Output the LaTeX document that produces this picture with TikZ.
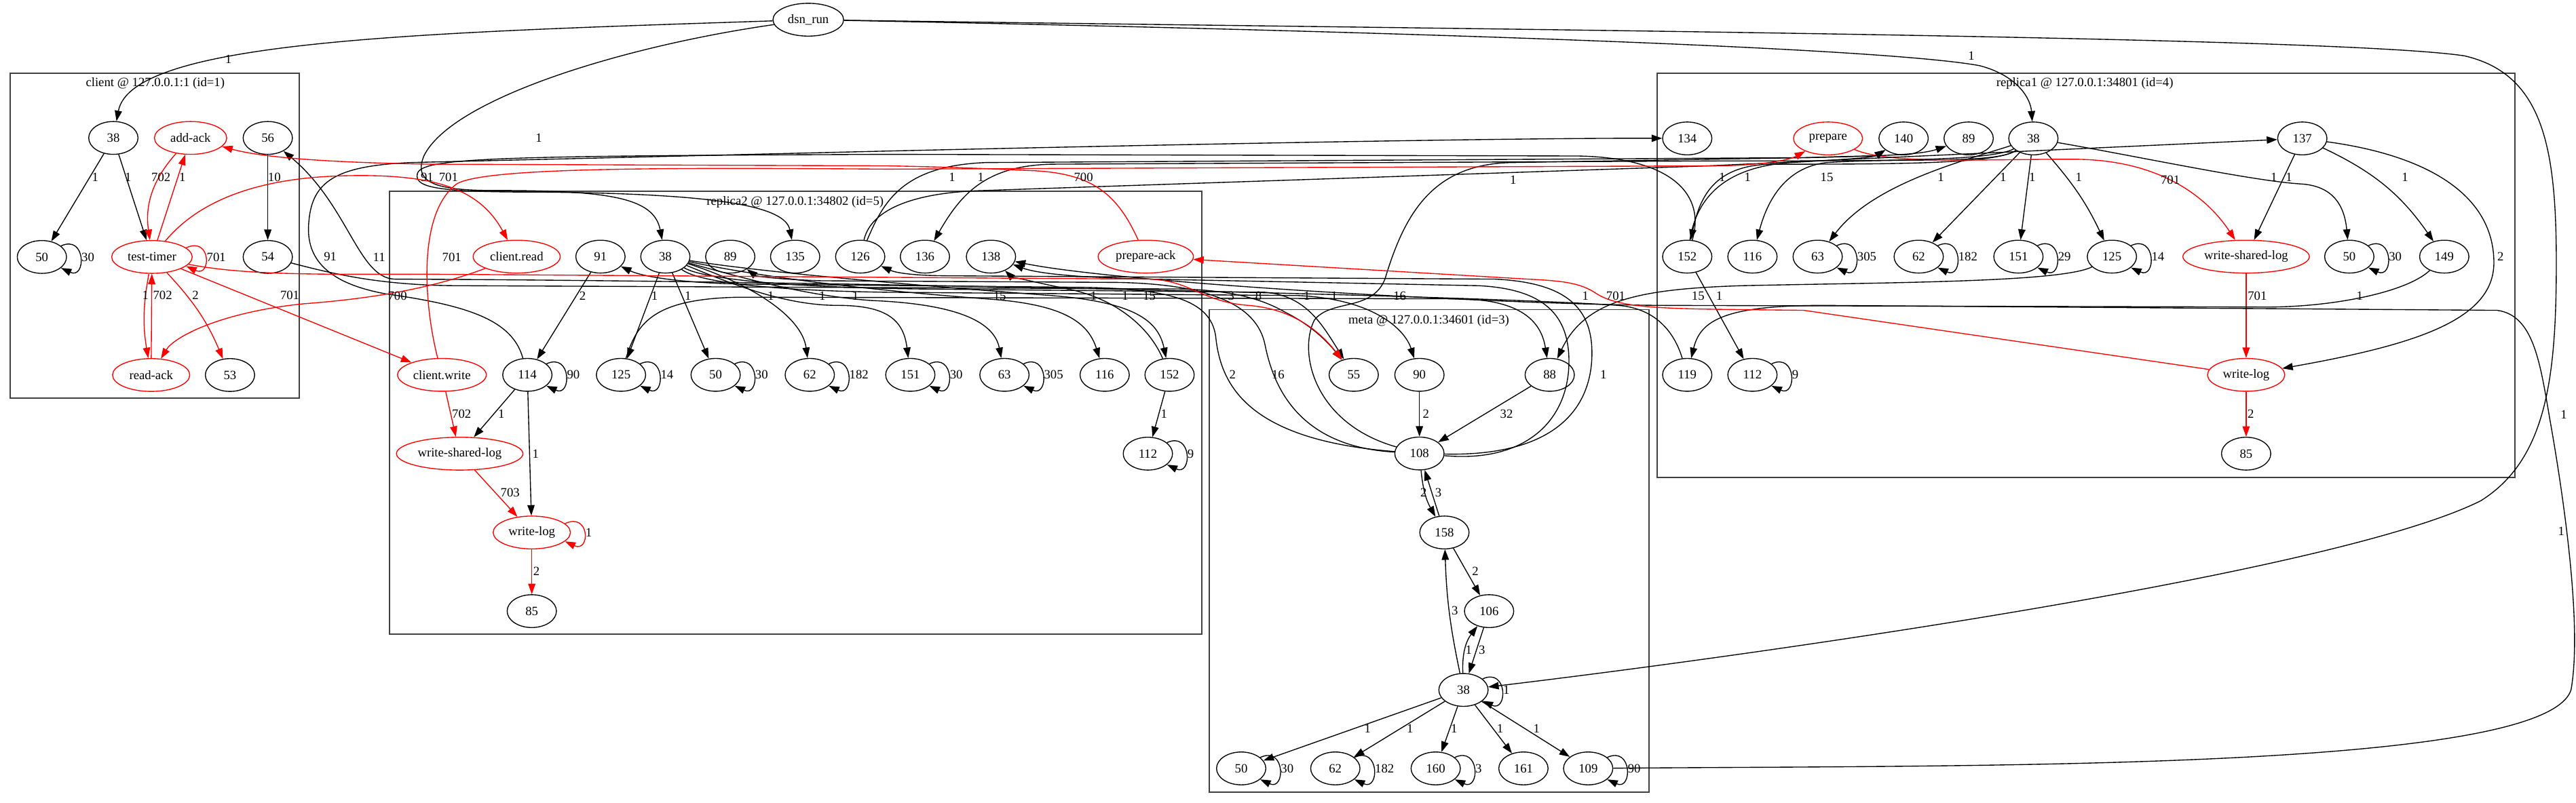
\documentclass[tikz,border=0pt]{standalone}
\usepackage{fontspec}
\setmainfont{Liberation Serif}
\usetikzlibrary{arrows.meta,shapes.geometric}

\begin{document}
\begin{tikzpicture}[x=0.05cm,y=-0.05cm,
  tn/.style={ellipse,draw=black,line width=0.8pt,minimum width=1.5cm,minimum height=1cm,inner sep=0pt,font=\fontsize{11}{13}\selectfont},
  rn/.style={tn,draw=red},
  lbl/.style={inner sep=1pt,font=\fontsize{11}{13}\selectfont,text=black},
  cl/.style={draw=black!75,line width=1pt},
  e/.style={draw=black,line width=0.8pt,-{Triangle[length=0.32cm,width=0.22cm]}},
  er/.style={e,draw=red},
  sloop/.style={to path={(\tikztostart.30) .. controls +(25:0.85cm) and +(-25:0.85cm) .. (\tikztostart.-30) \tikztonodes}},
  wloop/.style={to path={(\tikztostart.15) .. controls +(25:0.85cm) and +(-25:0.85cm) .. (\tikztostart.-15) \tikztonodes}}]
\useasboundingbox (0,0) rectangle (1568,489);

\node[tn,minimum width=2.15cm] (dsnrun) at (492,12) {dsn\_run};

% client
\draw[cl] (6.3,44.6) rectangle (182.3,242.6);
\node[lbl] (clientlbl) at (94.5,50.6) {client @ 127.0.0.1:1 (id=1)};
\node[tn] (c38) at (69,84) {38};
\node[rn,minimum width=2.2cm] (caddack) at (116,84) {add-ack};
\node[tn] (c56) at (163,84) {56};
\node[tn] (c50) at (25.5,156.5) {50};
\node[rn,minimum width=2.45cm] (ctimer) at (92.5,156.5) {test-timer};
\node[tn] (c54) at (163,156.5) {54};
\node[rn,minimum width=2.35cm] (creadack) at (92,228.4) {read-ack};
\node[tn] (c53) at (140,228.4) {53};

% replica2
\draw[cl] (237.1,116.6) rectangle (731.6,386.2);
\node[lbl] (rtwolbl) at (484,123.2) {replica2 @ 127.0.0.1:34802 (id=5)};
\node[rn,minimum width=2.65cm] (bread) at (314.5,156.3) {client.read};
\node[tn] (b91) at (365.5,156.3) {91};
\node[tn] (b38) at (405,156.3) {38};
\node[tn] (b89) at (444.5,156.3) {89};
\node[tn] (b135) at (484,156.3) {135};
\node[tn] (b126) at (523.6,156.3) {126};
\node[tn] (b136) at (563,156.3) {136};
\node[tn] (b138) at (603.2,156.3) {138};
\node[rn,minimum width=2.9cm] (bprepack) at (697.4,156.3) {prepare-ack};
\node[rn,minimum width=2.7cm] (bwrite) at (269,228.3) {client.write};
\node[tn] (b114) at (321,228.3) {114};
\node[tn] (b125) at (378,228.3) {125};
\node[tn] (b50) at (435.6,228.3) {50};
\node[tn] (b62) at (492.9,228.3) {62};
\node[tn] (b151) at (554.1,228.3) {151};
\node[tn] (b63) at (611.4,228.3) {63};
\node[tn] (b116) at (672.4,228.3) {116};
\node[tn] (b152) at (711.9,228.3) {152};
\node[rn,minimum width=3.85cm] (bwsl) at (279.8,276.3) {write-shared-log};
\node[tn] (b112) at (698.7,276.3) {112};
\node[rn,minimum width=2.35cm] (bwlog) at (323.7,324.3) {write-log};
\node[tn] (b85) at (323.7,372.2) {85};

% meta
\draw[cl] (736.2,188.6) rectangle (1003.8,482.4);
\node[lbl] (metalbl) at (869.7,195.2) {meta @ 127.0.0.1:34601 (id=3)};
\node[tn] (m55) at (824,228.3) {55};
\node[tn] (m90) at (864,228.3) {90};
\node[tn] (m88) at (943.3,228.3) {88};
\node[tn] (m108) at (864,276.2) {108};
\node[tn] (m158) at (879.2,324.3) {158};
\node[tn] (m106) at (906.4,372.2) {106};
\node[tn] (m38) at (890.8,420.2) {38};
\node[tn] (m50) at (755.5,468) {50};
\node[tn] (m62) at (812.8,468) {62};
\node[tn] (m160) at (873.9,468) {160};
\node[tn] (m161) at (927.3,468) {161};
\node[tn] (m109) at (966.7,468) {109};

% replica1
\draw[cl] (1008.6,44.5) rectangle (1530.8,290.7);
\node[lbl] (ronelbl) at (1269,50.7) {replica1 @ 127.0.0.1:34801 (id=4)};
\node[tn] (a134) at (1027,84.3) {134};
\node[rn,minimum width=2.1cm] (aprep) at (1112.7,84.3) {prepare};
\node[tn] (a140) at (1158.7,84.3) {140};
\node[tn] (a89) at (1198.3,84.3) {89};
\node[tn] (a38) at (1237.7,84.3) {38};
\node[tn] (a137) at (1401.4,84.3) {137};
\node[tn] (a152) at (1027,156.3) {152};
\node[tn] (a116) at (1066.7,156.3) {116};
\node[tn] (a63) at (1106.4,156.3) {63};
\node[tn] (a62) at (1167.9,156.3) {62};
\node[tn] (a151) at (1228.6,156.3) {151};
\node[tn] (a125) at (1285.5,156.3) {125};
\node[rn,minimum width=3.85cm] (awsl) at (1367.2,156.3) {write-shared-log};
\node[tn] (a50) at (1430,156.3) {50};
\node[tn] (a149) at (1487.8,156.3) {149};
\node[tn] (a119) at (1027,228.3) {119};
\node[tn] (a112) at (1066.7,228.3) {112};
\node[rn,minimum width=2.35cm] (awlog) at (1367.2,228.3) {write-log};
\node[tn] (a85) at (1367.2,276.3) {85};

% client edges
\draw[e] (dsnrun) .. controls (250,20) and (80,25) .. (c38) node[lbl] at (139,36) {1};
\draw[e] (c38) -- (c50) node[lbl] at (58,108) {1};
\draw[e] (c38) -- (ctimer) node[lbl] at (78,108) {1};
\draw[er] (ctimer) -- (caddack) node[lbl] at (111,108) {1};
\draw[er] (caddack) to[bend right=25] (ctimer) node[lbl] at (98,108) {702};
\draw[er] (ctimer) to[bend right=10] (creadack) node[lbl] at (88.5,180) {1};
\draw[er] (creadack) -- (ctimer) node[lbl] at (99,180) {702};
\draw[er] (ctimer) to[bend left=10] (c53) node[lbl] at (119,180) {2};
\draw[e] (c56) -- (c54) node[lbl] at (167,108) {10};
\path (c50) edge[e,sloop] node[lbl,right] {30} (c50);
\path (ctimer) edge[er,wloop] node[lbl,right] {701} (ctimer);

% replica2 edges
\draw[e] (b91) -- (b114) node[lbl] at (354.6,180.4) {2};
\draw[e] (b38) -- (b125) node[lbl] at (398.4,180.4) {1};
\draw[e] (b38) -- (b50) node[lbl] at (418.8,180.4) {1};
\draw[e] (b38) .. controls (455,172) and (488,192) .. (b62) node[lbl] at (469.2,180.4) {1};
\draw[e] (b38) .. controls (450,175) and (480,186) .. (510,186) .. controls (540,186) and (550,195) .. (b151) node[lbl] at (500.5,180.4) {1};
\draw[e] (b38) .. controls (455,170) and (490,180) .. (530,183) .. controls (580,185) and (605,195) .. (b63) node[lbl] at (520.7,180.4) {1};
\draw[e] (b38) .. controls (460,168) and (520,176) .. (600,182) .. controls (645,185) and (662,195) .. (b116) node[lbl] at (699.6,180.4) {15};
\draw[e] (b38) .. controls (465,166) and (560,174) .. (640,180) .. controls (690,184) and (705,195) .. (b152) node[lbl] at (665.7,180.4) {1};
\draw[e] (b152) .. controls (700,200) and (680,182) .. (650,176) .. controls (630,172) and (615,168) .. (b138) node[lbl] at (684.9,180.4) {1};
\draw[e] (b114) -- (bwsl) node[lbl] at (305.2,252) {1};
\draw[er] (bwrite) -- (bwsl) node[lbl] at (281,252) {702};
\draw[e] (b114) -- (bwlog) node[lbl] at (326,276.3) {1};
\draw[er] (bwsl) -- (bwlog) node[lbl] at (310.5,300) {703};
\draw[er] (bwlog) -- (b85) node[lbl] at (326.5,347.8) {2};
\draw[e] (b152) -- (b112) node[lbl] at (708.5,252) {1};
\path (b114) edge[e,sloop] node[lbl,right] {90} (b114);
\path (b125) edge[e,sloop] node[lbl,right] {14} (b125);
\path (b50) edge[e,sloop] node[lbl,right] {30} (b50);
\path (b62) edge[e,sloop] node[lbl,right] {182} (b62);
\path (b151) edge[e,sloop] node[lbl,right] {30} (b151);
\path (b63) edge[e,sloop] node[lbl,right] {305} (b63);
\path (b112) edge[e,sloop] node[lbl,right] {9} (b112);
\path (bwlog) edge[er,wloop] node[lbl,right] {1} (bwlog);

% meta edges
\draw[e] (m90) -- (m108) node[lbl] at (868,252) {2};
\draw[e] (m88) -- (m108) node[lbl] at (917,252) {32};
\draw[e] (m108) to[bend right=12] (m158) node[lbl] at (866.5,300) {2};
\draw[e] (m158) -- (m108) node[lbl] at (875.5,300) {3};
\draw[e] (m158) -- (m106) node[lbl] at (898,348) {2};
\draw[e] (m38) to[bend left=5] (m158) node[lbl] at (885.5,372) {3};
\draw[e] (m38) to[bend left=20] (m106) node[lbl] at (894,395.8) {1};
\draw[e] (m106) -- (m38) node[lbl] at (902,395.8) {3};
\draw[e] (m38) -- (m50) node[lbl] at (832.4,443.6) {1};
\draw[e] (m38) -- (m62) node[lbl] at (858.3,443.6) {1};
\draw[e] (m38) -- (m160) node[lbl] at (885.1,443.6) {1};
\draw[e] (m38) -- (m161) node[lbl] at (913.1,443.6) {1};
\draw[e] (m38) -- (m109) node[lbl] at (935.3,443.6) {1};
\path (m38) edge[e,sloop] node[lbl,right] {1} (m38);
\path (m50) edge[e,sloop] node[lbl,right] {30} (m50);
\path (m62) edge[e,sloop] node[lbl,right] {182} (m62);
\path (m160) edge[e,sloop] node[lbl,right] {3} (m160);
\path (m109) edge[e,sloop] node[lbl,right] {90} (m109);

% replica1 edges
\draw[e] (a38) .. controls (1195,98) and (1140,112) .. (a63) node[lbl] at (1181.4,108.1) {1};
\draw[e] (a38) -- (a62) node[lbl] at (1219.3,108.1) {1};
\draw[e] (a38) -- (a151) node[lbl] at (1237,108.1) {1};
\draw[e] (a38) to[bend left=8] (a125) node[lbl] at (1265.3,108.1) {1};
\draw[e] (a38) .. controls (1300,95) and (1370,110) .. (1400,112) .. controls (1420,113) and (1427,125) .. (a50) node[lbl] at (1384.1,108.1) {1};
\draw[e] (a38) .. controls (1215,100) and (1160,96) .. (1112,99) .. controls (1085,102) and (1075,125) .. (a116) node[lbl] at (1112,108.1) {15};
\draw[e] (a38) .. controls (1215,100) and (1150,100) .. (1080,100) .. controls (1045,100) and (1035,118) .. (a152) node[lbl] at (1048.3,108.1) {1};
\draw[e] (a152) .. controls (1032,125) and (1045,102) .. (1090,99) .. controls (1125,97) and (1140,96) .. (a140) node[lbl] at (1063.8,108.1) {1};
\draw[e] (a152) -- (a112) node[lbl] at (1046.5,180.4) {1};
\draw[e] (a137) -- (awsl) node[lbl] at (1393.3,108.1) {1};
\draw[e] (a137) to[bend left=15] (a149) node[lbl] at (1463.9,108.1) {1};
\draw[e] (a137) .. controls (1480,95) and (1518,120) .. (1518,160) .. controls (1518,195) and (1470,210) .. (awlog) node[lbl] at (1522,156.3) {2};
\draw[er] (aprep) .. controls (1150,100) and (1200,97) .. (1262,97) .. controls (1312,97) and (1342,118) .. (awsl) node[lbl] at (1321,109.5) {701};
\draw[er] (awsl) -- (awlog) node[lbl] at (1374,180.4) {701};
\draw[er] (awlog) -- (a85) node[lbl] at (1370,252) {2};
\path (a63) edge[e,sloop] node[lbl,right] {305} (a63);
\path (a62) edge[e,sloop] node[lbl,right] {182} (a62);
\path (a151) edge[e,sloop] node[lbl,right] {29} (a151);
\path (a125) edge[e,sloop] node[lbl,right] {14} (a125);
\path (a50) edge[e,sloop] node[lbl,right] {30} (a50);
\path (a112) edge[e,sloop] node[lbl,right] {9} (a112);

% dsn_run to the other nodes
\draw[e] (dsnrun) .. controls (380,28) and (275,60) .. (258,95) .. controls (252,110) and (262,116) .. (300,116) .. controls (370,116) and (398,120) .. (b38) node[lbl] at (328,84) {1};
\draw[e] (dsnrun) .. controls (800,18) and (1140,28) .. (1205,40) .. controls (1228,46) and (1236,60) .. (a38) node[lbl] at (1200,34) {1};
\draw[e] (dsnrun) .. controls (900,18) and (1420,22) .. (1500,34) .. controls (1548,45) and (1556,90) .. (1556,160) .. controls (1556,230) and (1550,280) .. (1510,305) .. controls (1420,350) and (1060,400) .. (m38) node[lbl] at (1560.6,252.7) {1};

% across the clusters
\draw[e] (m109) .. controls (1200,466) and (1550,470) .. (1565,420) .. controls (1572,380) and (1560,300) .. (1552,255) .. controls (1546,220) and (1542,192) .. (1520,189) -- (1110,186) .. controls (1050,186) and (1035,195) .. (a119) node[lbl] at (1559,323.5) {1};
\draw[e] (a149) .. controls (1465,178) and (1420,187) .. (1380,187) -- (1010,186) .. controls (900,185) and (680,172) .. (b138) node[lbl] at (1436.3,180.4) {1};
\draw[e] (a119) .. controls (1020,205) and (1010,188) .. (985,186) .. controls (900,180) and (500,171) .. (240,170) .. controls (218,169) and (212,125) .. (c56) node[lbl] at (230.8,156.5) {11};
\draw[e] (a125) .. controls (1255,172) and (1150,172) .. (1060,174) .. controls (1000,176) and (965,182) .. (m88) node[lbl] at (1033.6,180.4) {15};
\draw[e] (b125) .. controls (388,195) and (400,182) .. (450,181) -- (890,182) .. controls (925,183) and (938,195) .. (m88) node[lbl] at (608.5,180.4) {15};
\draw[e] (m108) .. controls (760,268) and (743,235) .. (740,205) .. controls (737,182) and (710,176) .. (660,175) -- (450,173) .. controls (410,172) and (390,168) .. (b91) node[lbl] at (750.2,228.3) {2};
\draw[e] (m108) .. controls (790,272) and (775,235) .. (770,210) .. controls (765,185) and (735,173) .. (680,172) -- (500,171) .. controls (470,170) and (460,168) .. (b89) node[lbl] at (778,228.3) {16};
\draw[e] (m108) .. controls (945,278) and (969,250) .. (969,215) .. controls (969,185) and (950,172) .. (910,170) -- (580,168) .. controls (555,168) and (545,166) .. (b126) node[lbl] at (976,228.3) {1};
\draw[e] (m108) .. controls (930,282) and (955,255) .. (955,220) .. controls (955,192) and (940,176) .. (900,174) -- (700,170) .. controls (650,169) and (630,166) .. (b138) node[lbl] at (965,180.4) {1};
\draw[e] (m108) .. controls (800,258) and (790,215) .. (800,195) .. controls (810,182) and (835,190) .. (843,170) .. controls (855,130) and (872,100) .. (920,99) -- (1100,96) .. controls (1150,95) and (1170,94) .. (a89) node[lbl] at (852,180.4) {16};
\draw[e] (b114) .. controls (312,195) and (285,186) .. (235,179) .. controls (196,172) and (186,155) .. (188,135) .. controls (190,110) and (205,101) .. (250,99) -- (540,92) .. controls (800,86) and (950,84) .. (a134) node[lbl] at (201,156.5) {91};
\draw[e] (a152) .. controls (1038,120) and (1020,96) .. (960,95) -- (540,94) .. controls (300,95) and (256,96) .. (254,106) .. controls (252,115) and (270,117) .. (330,117) .. controls (440,118) and (478,126) .. (b135) node[lbl] at (260,108) {91};
\draw[e] (b126) .. controls (538,122) and (550,101) .. (600,99) -- (1100,96) .. controls (1130,95) and (1142,95) .. (a140) node[lbl] at (579.5,108) {1};
\draw[e] (a38) .. controls (1212,98) and (1150,98) .. (1050,98) -- (640,100) .. controls (600,101) and (585,118) .. (b136) node[lbl] at (597,108) {1};
\draw[e] (b126) .. controls (530,128) and (555,117) .. (600,116) -- (1040,101) -- (a137) node[lbl] at (921,109.5) {1};
\draw[e] (c54) .. controls (200,166) and (230,174) .. (280,174) -- (720,176) .. controls (750,177) and (768,182) .. (782,190) .. controls (798,198) and (808,208) .. (m55) node[lbl] at (766,180.4) {8};
\draw[e] (b38) .. controls (425,172) and (470,177) .. (540,178) -- (790,180) .. controls (835,182) and (855,200) .. (m90) node[lbl] at (795.5,180.4) {1};
\draw[e] (b38) .. controls (428,170) and (480,175) .. (560,176) -- (770,178) .. controls (795,180) and (805,198) .. (m55) node[lbl] at (812.1,180.4) {1};

% red messages
\draw[er] (ctimer) .. controls (118,126) and (150,108) .. (212,107) .. controls (265,106) and (292,115) .. (bread) node[lbl] at (273,108) {701};
\draw[er] (bwrite) .. controls (258,185) and (254,130) .. (278,112) .. controls (295,102) and (400,102) .. (540,103) -- (1050,101) .. controls (1078,100) and (1090,97) .. (aprep) node[lbl] at (275,156.5) {701};
\draw[er] (bprepack) .. controls (680,118) and (665,106) .. (630,104) .. controls (605,103) and (590,102) .. (540,101) -- (262,100) .. controls (200,99) and (160,96) .. (caddack) node[lbl] at (659.5,108) {700};
\draw[er] (awlog) -- (1098,189) .. controls (1020,188) and (988,189) .. (972,179) .. controls (962,172) and (950,171) .. (930,170) -- (bprepack) node[lbl] at (983.5,180.4) {701};
\draw[er] (ctimer) -- (bwrite) node[lbl] at (176.4,180) {701};
\draw[er] (bread) .. controls (262,176) and (225,182) .. (185,185) .. controls (135,190) and (106,205) .. (creadack) node[lbl] at (241.9,180.2) {700};
\draw[er] (ctimer) .. controls (150,168) and (200,167) .. (260,167) -- (700,170) .. controls (725,171) and (732,184) .. (760,186) .. controls (785,188) and (802,200) .. (m55) node[lbl] at (749.4,180.4) {3};
\end{tikzpicture}
\end{document}
